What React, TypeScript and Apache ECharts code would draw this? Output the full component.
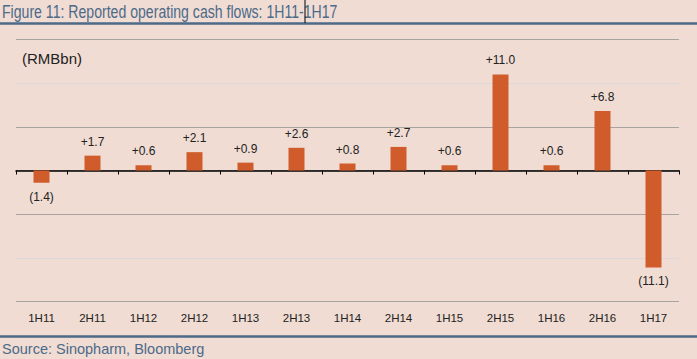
import React, { useEffect, useRef } from "react";
import * as echarts from "echarts";

const categories = ["1H11", "2H11", "1H12", "2H12", "1H13", "2H13", "1H14", "2H14", "1H15", "2H15", "1H16", "2H16", "1H17"];
const cashFlows = [-1.4, 1.7, 0.6, 2.1, 0.9, 2.6, 0.8, 2.7, 0.6, 11.0, 0.6, 6.8, -11.1];
const titleText = "Figure 11: Reported operating cash flows: 1H11-1H17";
const unitText = "(RMBbn)";
const sourceText = "Source: Sinopharm, Bloomberg";

const BG = "#F0DCD3";
const BLUE = "#4C6A89";
const BAR = "#CF5C2A";
const FONT = "'Liberation Sans', sans-serif";

export default function App() {
  const ref = useRef<HTMLDivElement>(null);
  useEffect(() => {
    document.body.style.margin = "0";
    document.body.style.background = BG;
    const chart = echarts.init(ref.current!, null, { renderer: "svg" });
    const dark = "#A9A4A2";
    const light = "#DCD8DA";
    chart.setOption({
      animation: false,
      backgroundColor: BG,
      grid: { left: 16, right: 18, top: 39.5, bottom: 57.5, containLabel: false },
      xAxis: [
        {
          type: "category",
          data: categories,
          axisLine: { onZero: true, lineStyle: { color: "#000", width: 1.5 } },
          axisTick: { show: true, length: 4, lineStyle: { color: "#000", width: 1 } },
          axisLabel: { show: false },
          splitLine: { show: false },
        },
        {
          type: "category",
          data: categories,
          position: "bottom",
          axisLine: { show: false, onZero: false },
          axisTick: { show: false },
          axisLabel: { show: true, margin: 10, color: "#222", fontSize: 11.5, fontFamily: FONT },
        },
      ],
      yAxis: {
        type: "value",
        min: -15,
        max: 15,
        interval: 5,
        axisLabel: { show: false },
        axisLine: { show: false },
        axisTick: { show: false },
        splitLine: { show: true, lineStyle: { color: [dark, light, dark, dark, dark, light, dark], width: 1 } },
      },
      series: [
        {
          type: "bar",
          xAxisIndex: 0,
          data: cashFlows.map((v) => ({
            value: v,
            label: {
              show: true,
              position: v < 0 ? "bottom" : "top",
              distance: 8,
              formatter: () => (v < 0 ? `(${Math.abs(v).toFixed(1)})` : `+${v.toFixed(1)}`),
              color: "#222",
              fontSize: 12,
              fontFamily: FONT,
            },
          })),
          barWidth: 16,
          itemStyle: { color: BAR },
        },
      ],
      graphic: [
        {
          type: "text",
          x: 2,
          y: 11,
          scaleX: 0.762,
          style: { text: titleText, fontSize: 18.5, fontFamily: FONT, fill: BLUE, verticalAlign: "middle", align: "left" },
        },
        {
          type: "line",
          shape: { x1: 0, y1: 23.5, x2: 697, y2: 23.5 },
          style: { stroke: BLUE, lineWidth: 2.5 },
        },
        {
          type: "line",
          shape: { x1: 305, y1: 0, x2: 305, y2: 23 },
          style: { stroke: "#000", lineWidth: 1 },
        },
        {
          type: "text",
          x: 22,
          y: 58,
          style: { text: unitText, fontSize: 15, fontFamily: FONT, fill: "#222", verticalAlign: "middle", align: "left" },
        },
        {
          type: "line",
          shape: { x1: 0, y1: 336.5, x2: 697, y2: 336.5 },
          style: { stroke: BLUE, lineWidth: 2.5 },
        },
        {
          type: "text",
          x: 2,
          y: 349,
          style: { text: sourceText, fontSize: 14.5, fontFamily: FONT, fill: BLUE, verticalAlign: "middle", align: "left" },
        },
      ],
    });
    return () => chart.dispose();
  }, []);
  return <div ref={ref} style={{ width: 697, height: 359 }} />;
}
